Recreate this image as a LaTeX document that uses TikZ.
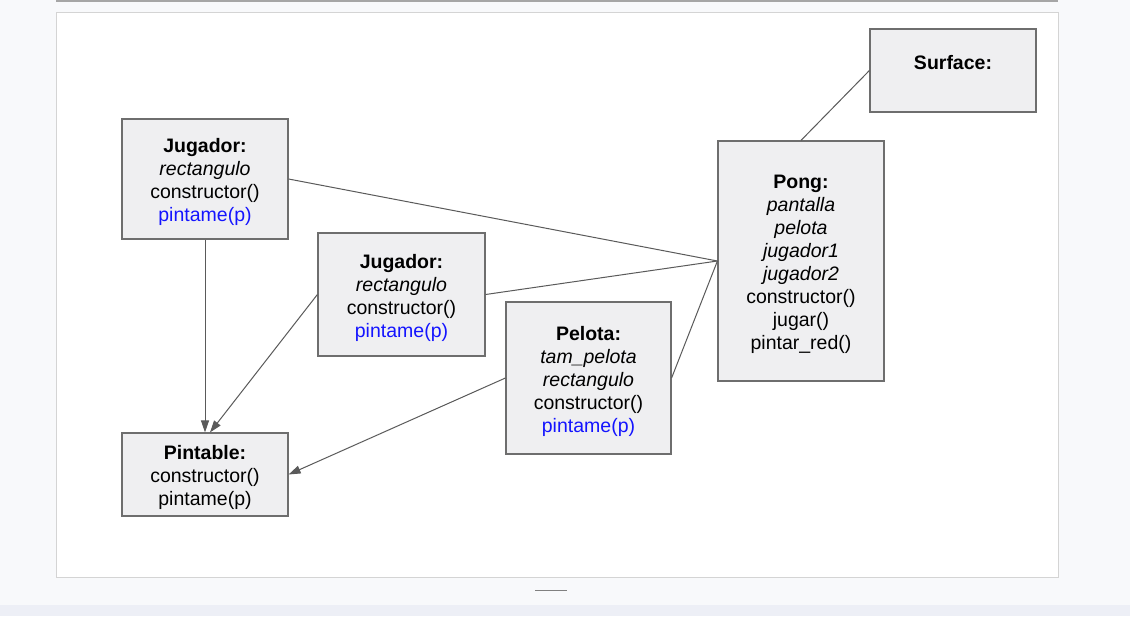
\documentclass[tikz,border=0pt]{standalone}
\usepackage{fontspec}
\setmainfont{Liberation Sans}
\usetikzlibrary{arrows.meta}

\definecolor{boxfill}{HTML}{EFEFF1}
\definecolor{boxline}{HTML}{6E6E6E}
\definecolor{edgecol}{HTML}{5A5A5A}
\definecolor{pageback}{HTML}{F8F9FB}
\definecolor{slideline}{HTML}{D4D4D4}
\definecolor{barback}{HTML}{EDEFF6}
\definecolor{metodo}{HTML}{1414FF}

\newcommand{\cabecera}[1]{\rule{0pt}{21pt}\textbf{#1}}

\begin{document}
\begin{tikzpicture}[x=1pt, y=-1pt,
    clase/.style={rectangle, draw=boxline, fill=boxfill, line width=1.2pt, inner sep=0pt,
      align=center, font=\fontsize{19.5}{23}\selectfont},
    enlace/.style={draw=edgecol, line width=1pt},
    hereda/.style={enlace, -{Triangle[length=12pt, width=8pt]}}]
            % Page
            \useasboundingbox (0,0) rectangle (1130,616);
            \fill[pageback] (0,0) rectangle (1130,616);
            \fill[barback] (0,605) rectangle (1130,616);
            \draw[gray!70, line width=1.5pt] (56,0.75) -- (1058,0.75);
            \filldraw[fill=white, draw=slideline] (56,12) rectangle (1058,577);
            \draw[gray] (535,590) -- (567,590);

            % Nodes
            \node[clase, minimum width=166pt, minimum height=120pt] (jug1) at (205,179)
                {\cabecera{Jugador:}\\\textit{rectangulo}\\constructor()\\\textcolor{metodo}{pintame(p)}};
            \node[clase, minimum width=167pt, minimum height=123pt] (jug2) at (401.5,294.5)
                {\cabecera{Jugador:}\\\textit{rectangulo}\\constructor()\\\textcolor{metodo}{pintame(p)}};
            \node[clase, minimum width=165pt, minimum height=152pt] (pelota) at (588.5,378)
                {\cabecera{Pelota:}\\\textit{tam\_pelota}\\\textit{rectangulo}\\constructor()\\\textcolor{metodo}{pintame(p)}};
            \node[clase, minimum width=166pt, minimum height=240pt] (pong) at (801,261)
                {\cabecera{Pong:}\\\textit{pantalla}\\\textit{pelota}\\\textit{jugador1}\\\textit{jugador2}\\constructor()\\jugar()\\pintar\_red()};
            \node[clase, minimum width=166pt, minimum height=83pt] (surface) at (953,70.5)
                {\cabecera{Surface:}\\~};
            \node[clase, minimum width=166pt, minimum height=83pt] (pint) at (205,474.5)
                {\cabecera{Pintable:}\\constructor()\\pintame(p)};

            % Edges
            \draw[enlace] (jug1.east) -- (pong.west);
            \draw[enlace] (jug2.east) -- (pong.west);
            \draw[enlace] (pelota.east) -- (pong.west);
            \draw[enlace] (surface.west) -- (pong.north);
            \draw[hereda] (jug1.south) -- (pint.north);
            \draw[hereda] (jug2.west) -- ([xshift=5pt]pint.north);
            \draw[hereda] (pelota.west) -- (pint.east);
        \end{tikzpicture}
\end{document}
